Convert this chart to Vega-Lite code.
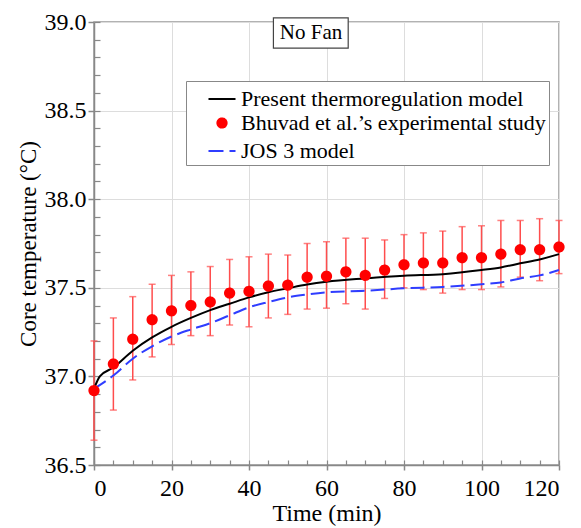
{
  "$schema": "https://vega.github.io/schema/vega-lite/v6.json",
  "width": 465,
  "height": 443,
  "autosize": {"type": "none"},
  "padding": {"left": 94, "top": 22, "right": 22, "bottom": 63},
  "background": "white",
  "config": {
    "font": "Liberation Serif",
    "view": {"stroke": "#999999", "strokeWidth": 1.5}
  },
  "datasets": {
    "exp": [
      {"series": "Bhuvad et al.’s experimental study", "t": 0, "v": 36.92, "lo": 36.64, "hi": 37.20},
      {"series": "Bhuvad et al.’s experimental study", "t": 5, "v": 37.07, "lo": 36.81, "hi": 37.33},
      {"series": "Bhuvad et al.’s experimental study", "t": 10, "v": 37.21, "lo": 36.98, "hi": 37.45},
      {"series": "Bhuvad et al.’s experimental study", "t": 15, "v": 37.32, "lo": 37.11, "hi": 37.52},
      {"series": "Bhuvad et al.’s experimental study", "t": 20, "v": 37.37, "lo": 37.18, "hi": 37.57},
      {"series": "Bhuvad et al.’s experimental study", "t": 25, "v": 37.40, "lo": 37.23, "hi": 37.59},
      {"series": "Bhuvad et al.’s experimental study", "t": 30, "v": 37.42, "lo": 37.23, "hi": 37.62},
      {"series": "Bhuvad et al.’s experimental study", "t": 35, "v": 37.47, "lo": 37.29, "hi": 37.66},
      {"series": "Bhuvad et al.’s experimental study", "t": 40, "v": 37.48, "lo": 37.28, "hi": 37.675},
      {"series": "Bhuvad et al.’s experimental study", "t": 45, "v": 37.51, "lo": 37.33, "hi": 37.69},
      {"series": "Bhuvad et al.’s experimental study", "t": 50, "v": 37.515, "lo": 37.35, "hi": 37.685},
      {"series": "Bhuvad et al.’s experimental study", "t": 55, "v": 37.56, "lo": 37.38, "hi": 37.75},
      {"series": "Bhuvad et al.’s experimental study", "t": 60, "v": 37.565, "lo": 37.385, "hi": 37.76},
      {"series": "Bhuvad et al.’s experimental study", "t": 65, "v": 37.59, "lo": 37.41, "hi": 37.78},
      {"series": "Bhuvad et al.’s experimental study", "t": 70, "v": 37.57, "lo": 37.38, "hi": 37.78},
      {"series": "Bhuvad et al.’s experimental study", "t": 75, "v": 37.60, "lo": 37.44, "hi": 37.77},
      {"series": "Bhuvad et al.’s experimental study", "t": 80, "v": 37.63, "lo": 37.50, "hi": 37.80},
      {"series": "Bhuvad et al.’s experimental study", "t": 85, "v": 37.64, "lo": 37.49, "hi": 37.81},
      {"series": "Bhuvad et al.’s experimental study", "t": 90, "v": 37.64, "lo": 37.47, "hi": 37.82},
      {"series": "Bhuvad et al.’s experimental study", "t": 95, "v": 37.67, "lo": 37.49, "hi": 37.845},
      {"series": "Bhuvad et al.’s experimental study", "t": 100, "v": 37.67, "lo": 37.49, "hi": 37.85},
      {"series": "Bhuvad et al.’s experimental study", "t": 105, "v": 37.69, "lo": 37.505, "hi": 37.88},
      {"series": "Bhuvad et al.’s experimental study", "t": 110, "v": 37.715, "lo": 37.56, "hi": 37.88},
      {"series": "Bhuvad et al.’s experimental study", "t": 115, "v": 37.715, "lo": 37.54, "hi": 37.89},
      {"series": "Bhuvad et al.’s experimental study", "t": 120, "v": 37.73, "lo": 37.58, "hi": 37.88}
    ],
    "lines": [
      {"series": "Present thermoregulation model", "t": 0, "v": 36.93},
      {"series": "Present thermoregulation model", "t": 1.5, "v": 37.0},
      {"series": "Present thermoregulation model", "t": 5, "v": 37.05},
      {"series": "Present thermoregulation model", "t": 10, "v": 37.145},
      {"series": "Present thermoregulation model", "t": 15, "v": 37.22},
      {"series": "Present thermoregulation model", "t": 20, "v": 37.28},
      {"series": "Present thermoregulation model", "t": 25, "v": 37.33},
      {"series": "Present thermoregulation model", "t": 30, "v": 37.374},
      {"series": "Present thermoregulation model", "t": 35, "v": 37.41},
      {"series": "Present thermoregulation model", "t": 40, "v": 37.446},
      {"series": "Present thermoregulation model", "t": 45, "v": 37.475},
      {"series": "Present thermoregulation model", "t": 50, "v": 37.497},
      {"series": "Present thermoregulation model", "t": 55, "v": 37.518},
      {"series": "Present thermoregulation model", "t": 60, "v": 37.534},
      {"series": "Present thermoregulation model", "t": 70, "v": 37.553},
      {"series": "Present thermoregulation model", "t": 80, "v": 37.568},
      {"series": "Present thermoregulation model", "t": 90, "v": 37.577},
      {"series": "Present thermoregulation model", "t": 100, "v": 37.60},
      {"series": "Present thermoregulation model", "t": 105, "v": 37.615},
      {"series": "Present thermoregulation model", "t": 110, "v": 37.638},
      {"series": "Present thermoregulation model", "t": 115, "v": 37.66},
      {"series": "Present thermoregulation model", "t": 120, "v": 37.69},
      {"series": "JOS 3 model", "t": 0, "v": 36.93},
      {"series": "JOS 3 model", "t": 5, "v": 37.005},
      {"series": "JOS 3 model", "t": 10, "v": 37.10},
      {"series": "JOS 3 model", "t": 15, "v": 37.17},
      {"series": "JOS 3 model", "t": 20, "v": 37.225},
      {"series": "JOS 3 model", "t": 25, "v": 37.265},
      {"series": "JOS 3 model", "t": 30, "v": 37.30},
      {"series": "JOS 3 model", "t": 35, "v": 37.345},
      {"series": "JOS 3 model", "t": 40, "v": 37.39},
      {"series": "JOS 3 model", "t": 45, "v": 37.42},
      {"series": "JOS 3 model", "t": 50, "v": 37.446},
      {"series": "JOS 3 model", "t": 55, "v": 37.462},
      {"series": "JOS 3 model", "t": 60, "v": 37.474},
      {"series": "JOS 3 model", "t": 70, "v": 37.483},
      {"series": "JOS 3 model", "t": 80, "v": 37.497},
      {"series": "JOS 3 model", "t": 90, "v": 37.505},
      {"series": "JOS 3 model", "t": 100, "v": 37.52},
      {"series": "JOS 3 model", "t": 105, "v": 37.53},
      {"series": "JOS 3 model", "t": 110, "v": 37.553},
      {"series": "JOS 3 model", "t": 115, "v": 37.57},
      {"series": "JOS 3 model", "t": 120, "v": 37.60}
    ],
    "label": [
      {"t": 56, "v": 38.94, "xa": 46.3, "xb": 65.6, "ya": 38.853, "yb": 39.023, "text": "No Fan"}
    ]
  },
  "resolve": {"axis": {"x": "independent", "y": "independent"}},
  "layer": [
    {
      "data": {"name": "exp"},
      "mark": {"type": "rule", "color": "#ff4d4d", "strokeWidth": 1.5},
      "encoding": {
        "x": {
          "field": "t", "type": "quantitative",
          "scale": {"domain": [0, 120], "nice": false},
          "axis": {
            "title": "Time (min)", "values": [0, 20, 40, 60, 80, 100, 120],
            "grid": true, "gridColor": "#dddddd", "gridWidth": 1,
            "domainColor": "#888888", "domainWidth": 1.5,
            "tickColor": "#888888", "tickSize": 5, "tickWidth": 1.5,
            "labelFontSize": 24, "labelColor": "black", "labelPadding": 6,
            "titleFontSize": 24, "titleFontWeight": "normal", "titleColor": "black", "titlePadding": 1,
            "orient": "bottom"
          }
        },
        "y": {
          "field": "lo", "type": "quantitative",
          "scale": {"domain": [36.5, 39.0], "nice": false, "zero": false},
          "axis": {
            "title": "Core  temperature (°C)", "values": [36.5, 37.0, 37.5, 38.0, 38.5, 39.0], "format": ".1f",
            "grid": true, "gridColor": "#dddddd", "gridWidth": 1,
            "domainColor": "#888888", "domainWidth": 1.5,
            "tickColor": "#888888", "tickSize": 6, "tickWidth": 1.5,
            "labelFontSize": 24, "labelColor": "black", "labelPadding": 2,
            "titleFontSize": 23, "titleFontWeight": "normal", "titleColor": "black", "titlePadding": 4,
            "orient": "left"
          }
        },
        "y2": {"field": "hi"}
      }
    },
    {
      "data": {"name": "exp"},
      "mark": {"type": "tick", "color": "#ff4d4d", "orient": "horizontal", "size": 7, "thickness": 1.5},
      "encoding": {
        "x": {
          "field": "t", "type": "quantitative",
          "axis": {
            "values": [0, 5, 10, 15, 20, 25, 30, 35, 40, 45, 50, 55, 60, 65, 70, 75, 80, 85, 90, 95, 100, 105, 110, 115, 120],
            "labels": false, "grid": false, "domain": false, "title": null,
            "tickColor": "#888888", "tickSize": -5, "tickWidth": 1.2, "orient": "bottom"
          }
        },
        "y": {
          "field": "hi", "type": "quantitative",
          "axis": {
            "values": [36.5, 36.6, 36.7, 36.8, 36.9, 37.0, 37.1, 37.2, 37.3, 37.4, 37.5, 37.6, 37.7, 37.8, 37.9, 38.0, 38.1, 38.2, 38.3, 38.4, 38.5, 38.6, 38.7, 38.8, 38.9, 39.0],
            "labels": false, "grid": false, "domain": false, "title": null,
            "tickColor": "#888888", "tickSize": -6, "tickWidth": 1.2, "orient": "left"
          }
        }
      }
    },
    {
      "data": {"name": "exp"},
      "mark": {"type": "tick", "color": "#ff4d4d", "orient": "horizontal", "size": 7, "thickness": 1.5},
      "encoding": {
        "x": {"field": "t", "type": "quantitative", "axis": null},
        "y": {"field": "lo", "type": "quantitative", "axis": null}
      }
    },
    {
      "data": {"name": "lines"},
      "transform": [{"filter": "datum.series == 'Present thermoregulation model'"}],
      "mark": {"type": "line", "strokeWidth": 2, "color": "black", "interpolate": "monotone"},
      "encoding": {
        "x": {"field": "t", "type": "quantitative", "axis": null},
        "y": {"field": "v", "type": "quantitative", "axis": null}
      }
    },
    {
      "data": {"name": "lines"},
      "transform": [{"filter": "datum.series == 'JOS 3 model'"}],
      "mark": {"type": "line", "strokeWidth": 2, "color": "#2f3dff", "strokeDash": [14, 6], "interpolate": "monotone"},
      "encoding": {
        "x": {"field": "t", "type": "quantitative", "axis": null},
        "y": {"field": "v", "type": "quantitative", "axis": null}
      }
    },
    {
      "data": {"name": "exp"},
      "mark": {"type": "point", "filled": false, "opacity": 1, "strokeWidth": 2},
      "encoding": {
        "x": {"field": "t", "type": "quantitative", "axis": null},
        "y": {"field": "v", "type": "quantitative", "axis": null},
        "color": {
          "field": "series", "type": "nominal",
          "scale": {
            "domain": ["Present thermoregulation model", "Bhuvad et al.’s experimental study", "JOS 3 model"],
            "range": ["black", "red", "#2f3dff"]
          },
          "legend": {
            "title": null,
            "orient": "none", "legendX": 92, "legendY": 59,
            "direction": "vertical",
            "fillColor": "white", "strokeColor": "#888888",
            "padding": 3,
            "labelFont": "Liberation Serif", "labelFontSize": 22, "labelColor": "black", "labelLimit": 500,
            "labelOffset": 4,
            "symbolOffset": 18,
            "symbolStrokeWidth": 2, "symbolOpacity": 1,
            "rowPadding": 2
          }
        },
        "fill": {
          "field": "series", "type": "nominal",
          "scale": {
            "domain": ["Present thermoregulation model", "Bhuvad et al.’s experimental study", "JOS 3 model"],
            "range": ["transparent", "red", "transparent"]
          }
        },
        "shape": {
          "field": "series", "type": "nominal",
          "scale": {
            "domain": ["Present thermoregulation model", "Bhuvad et al.’s experimental study", "JOS 3 model"],
            "range": ["stroke", "circle", "stroke"]
          }
        },
        "size": {
          "field": "series", "type": "nominal",
          "scale": {
            "type": "ordinal",
            "domain": ["Present thermoregulation model", "Bhuvad et al.’s experimental study", "JOS 3 model"],
            "range": [730, 85, 730]
          }
        },
        "strokeDash": {
          "field": "series", "type": "nominal",
          "scale": {
            "domain": ["Present thermoregulation model", "Bhuvad et al.’s experimental study", "JOS 3 model"],
            "range": [[1, 0], [1, 0], [15, 6]]
          }
        }
      }
    },
    {
      "data": {"name": "label"},
      "mark": {"type": "rect", "fill": "white", "stroke": "#444444", "strokeWidth": 1.2},
      "encoding": {
        "x": {"field": "xa", "type": "quantitative", "axis": null},
        "x2": {"field": "xb"},
        "y": {"field": "ya", "type": "quantitative", "axis": null},
        "y2": {"field": "yb"}
      }
    },
    {
      "data": {"name": "label"},
      "mark": {"type": "text", "fontSize": 21, "font": "Liberation Serif", "color": "black", "baseline": "middle", "align": "center"},
      "encoding": {
        "x": {"field": "t", "type": "quantitative", "axis": null},
        "y": {"field": "v", "type": "quantitative", "axis": null},
        "text": {"field": "text"}
      }
    }
  ]
}
